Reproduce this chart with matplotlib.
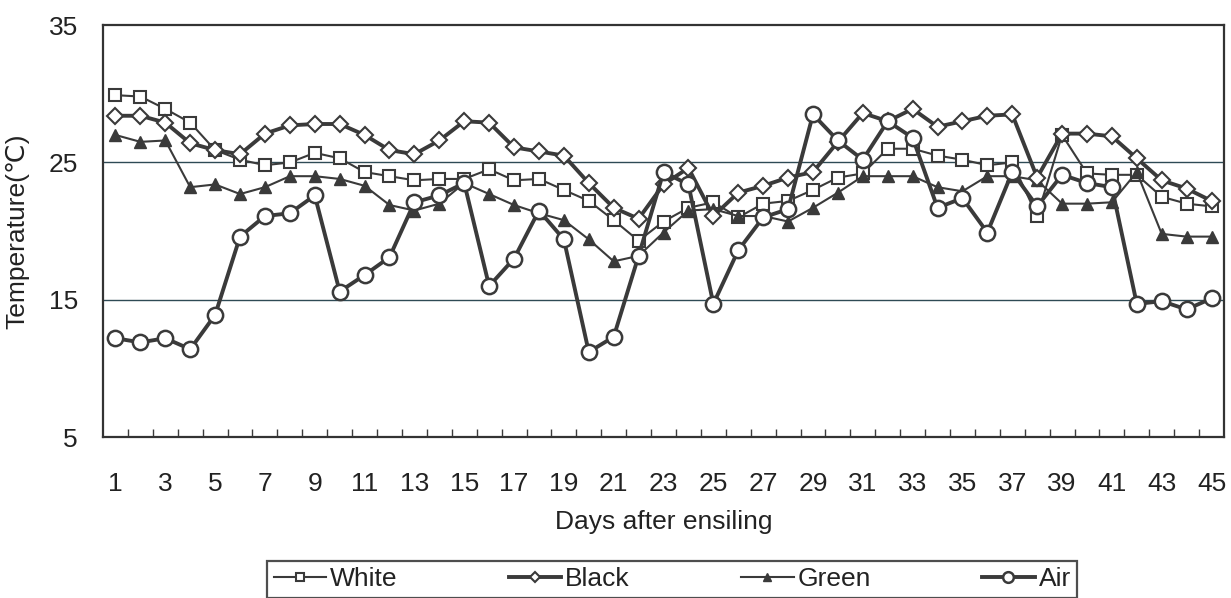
import matplotlib
matplotlib.use("Agg")
import matplotlib.pyplot as plt
import numpy as np

days = list(range(1, 46))
white = [29.9, 29.8, 28.9, 27.9, 25.9, 25.2, 24.8, 25.0, 25.7, 25.3,
         24.3, 24.0, 23.7, 23.8, 23.8, 24.5, 23.7, 23.8, 23.0, 22.2,
         20.8, 19.3, 20.7, 21.7, 22.1, 21.0, 22.0, 22.2, 23.0, 23.9,
         24.2, 26.0, 26.0, 25.5, 25.2, 24.8, 25.0, 21.1, 27.0, 24.2,
         24.1, 24.1, 22.5, 22.0, 21.8]
black = [28.4, 28.4, 27.9, 26.4, 25.9, 25.6, 27.1, 27.7, 27.8, 27.8,
         27.0, 25.9, 25.6, 26.6, 28.0, 27.9, 26.1, 25.8, 25.5, 23.5,
         21.7, 20.9, 23.4, 24.6, 21.1, 22.8, 23.3, 23.9, 24.3, 26.5,
         28.6, 28.0, 28.9, 27.6, 28.0, 28.4, 28.5, 23.9, 27.1, 27.1,
         26.9, 25.3, 23.7, 23.1, 22.2]
green = [27.0, 26.5, 26.6, 23.2, 23.4, 22.7, 23.2, 24.0, 24.0, 23.8,
         23.3, 21.9, 21.5, 22.0, 23.5, 22.7, 21.9, 21.3, 20.8, 19.4,
         17.8, 18.2, 19.9, 21.5, 21.6, 21.1, 21.1, 20.7, 21.7, 22.8,
         24.0, 24.0, 24.0, 23.2, 22.9, 24.0, 24.0, 23.7, 22.0, 22.0,
         22.1, 24.3, 19.8, 19.6, 19.6]
air = [12.2, 11.9, 12.2, 11.4, 13.9, 19.6, 21.1, 21.3, 22.6, 15.6,
       16.8, 18.1, 22.1, 22.6, 23.5, 16.0, 18.0, 21.5, 19.4, 11.2,
       12.3, 18.2, 24.3, 23.4, 14.7, 18.6, 21.0, 21.6, 28.5, 26.6,
       25.2, 28.0, 26.8, 21.7, 22.4, 19.9, 24.3, 21.8, 24.1, 23.5,
       23.2, 14.7, 14.9, 14.3, 15.1]

x_ticklabels = [str(d) for d in range(1, 46, 2)]
y_ticks = [5, 15, 25, 35]
series_names = ["White", "Black", "Green", "Air"]

plt.rcParams['font.family'] = ['Liberation Sans', 'DejaVu Sans']
ink = '#3a3a3a'
txt = '#222222'
fs = 19

fig = plt.figure(figsize=(12.31, 5.98), dpi=100)
ax = fig.add_axes([0.0837, 0.269, 0.9106, 0.689])

for gy in [15, 25]:
    ax.axhline(gy, color='#2e4a55', lw=1.0, zorder=1)

h_w, = ax.plot(days, white, color=ink, lw=1.5, marker='s', ms=8.5,
               mfc='white', mec=ink, mew=1.5, zorder=3)
h_b, = ax.plot(days, black, color=ink, lw=2.8, marker='D', ms=8,
               mfc='white', mec=ink, mew=1.5, zorder=4)
h_g, = ax.plot(days, green, color=ink, lw=1.5, marker='^', ms=8.5,
               mfc=ink, mec=ink, mew=1.0, zorder=3)
h_a, = ax.plot(days, air, color=ink, lw=2.8, marker='o', ms=11,
               mfc='white', mec=ink, mew=1.8, zorder=5)

ax.set_xlim(0.5, 45.5)
ax.set_ylim(5, 35)
ax.set_yticks(y_ticks)
ax.set_yticklabels([str(v) for v in y_ticks])
ax.set_xticks(list(range(1, 46, 2)))
ax.set_xticklabels(x_ticklabels)
ax.set_xticks(np.arange(1.5, 45.5, 1.0), minor=True)
ax.tick_params(axis='x', which='major', length=0, pad=25, labelsize=fs, colors=txt)
ax.tick_params(axis='x', which='minor', direction='in', length=6, width=1, color=ink)
ax.tick_params(axis='y', length=0, pad=18, labelsize=fs, colors=txt)

for s in ax.spines.values():
    s.set_color('#333333')
    s.set_linewidth(1.6)

ax.set_xlabel("Days after ensiling", fontsize=fs, labelpad=10, color=txt)
ax.set_ylabel("Temperature(℃)", fontsize=fs, labelpad=14, color=txt)

leg = fig.legend([h_w, h_b, h_g, h_a], series_names, loc='lower center',
                 bbox_to_anchor=(0.546, 0.0), ncol=4, fontsize=fs,
                 frameon=True, fancybox=False, edgecolor=txt,
                 handlelength=2.0, handletextpad=0.15, columnspacing=4.2,
                 markerscale=0.7, borderpad=0.25, borderaxespad=0.0)
leg.get_frame().set_linewidth(1.6)
for t in leg.get_texts():
    t.set_color(txt)

fig.savefig("out.png", dpi=100)
